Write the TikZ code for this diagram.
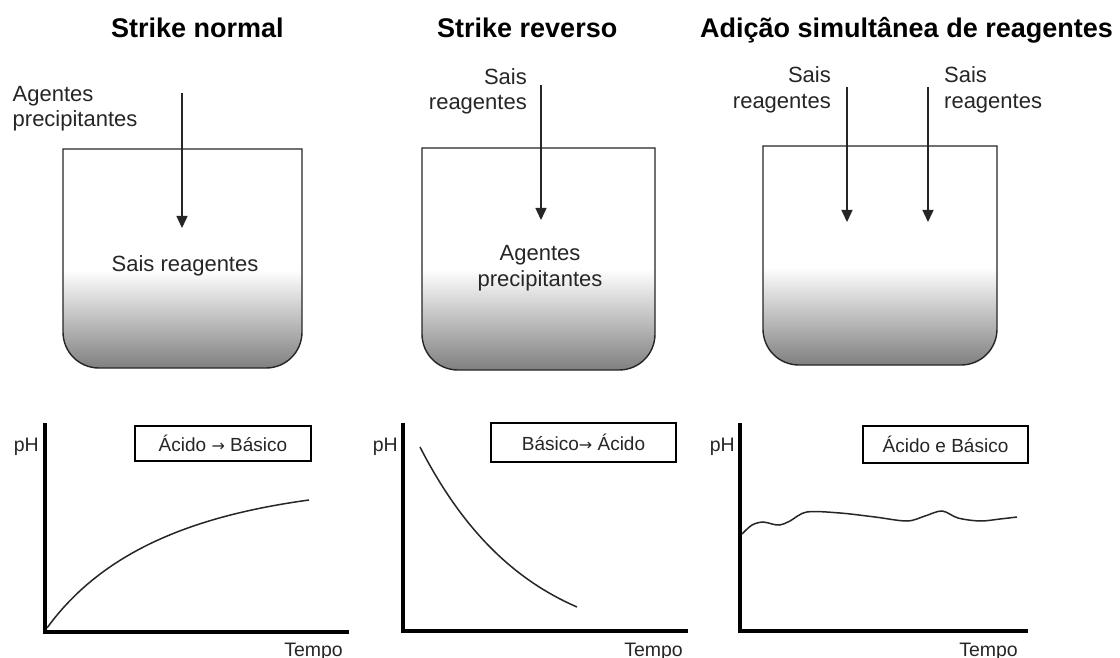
\documentclass[tikz,border=0pt]{standalone}
\usepackage{fontspec}
\setmainfont{Liberation Sans}
\newfontfamily\arrowfont{DejaVu Sans}
\usetikzlibrary{arrows.meta}
\newcommand\myvessel[4]{%
  \fill[white] (#1,#2) -- (#1,{#4-36}) .. controls (#1,{#4-16}) and ({#1+16},#4) .. ({#1+36},#4) -- ({#3-36},#4) .. controls ({#3-16},#4) and (#3,{#4-16}) .. (#3,{#4-36}) -- (#3,#2) -- cycle;
  \begin{scope}
    \clip (#1,#2) -- (#1,{#4-36}) .. controls (#1,{#4-16}) and ({#1+16},#4) .. ({#1+36},#4) -- ({#3-36},#4) .. controls ({#3-16},#4) and (#3,{#4-16}) .. (#3,{#4-36}) -- (#3,#2) -- cycle;
    \shade[top color=white,bottom color=black!50] (#1,{#2+121}) rectangle (#3,#4);
  \end{scope}
  \draw[vline] (#1,#2) -- (#1,{#4-36}) .. controls (#1,{#4-16}) and ({#1+16},#4) .. ({#1+36},#4) -- ({#3-36},#4) .. controls ({#3-16},#4) and (#3,{#4-16}) .. (#3,{#4-36}) -- (#3,#2) -- cycle;
}
\newcommand\rarr{{\arrowfont\fontsize{16}{19}\selectfont →}}
\tikzset{
  vline/.style={line width=1.4pt, draw=black!85},
  lbl/.style={font=\fontsize{22}{26}\selectfont, inner sep=0pt, text=black!85},
  ttl/.style={font=\bfseries\fontsize{27}{32}\selectfont, inner sep=0pt},
  axlbl/.style={font=\fontsize{19.5}{23}\selectfont, inner sep=0pt, text=black!85},
  boxlbl/.style={draw, line width=1.4pt, font=\fontsize{19}{22}\selectfont, inner sep=0pt, text=black!85},
  flow/.style={line width=1.4pt, draw=black!85, -{Triangle[length=12pt,width=11pt]}},
  axisline/.style={line width=3.5pt, line join=miter},
  curveline/.style={line width=1.5pt, draw=black!85}
}
\begin{document}
\begin{tikzpicture}[x=1pt,y=-1pt]
\useasboundingbox[fill=white] (0,0) rectangle (1120,658);

% titles
\node[ttl, anchor=base west] (t1) at (111,38) {Strike normal};
\node[ttl, anchor=base west] (t2) at (437,38) {Strike reverso};
\node[ttl, anchor=base west] (t3) at (700,38) {Adição simultânea de reagentes};

% vessels
\myvessel{63}{149}{302}{368}
\myvessel{422}{148}{655}{370}
\myvessel{763}{146}{997}{365}

% vessel 1
\node[lbl, anchor=base west] (v1a) at (12.5,102) {Agentes};
\node[lbl, anchor=base west] (v1b) at (12.5,127) {precipitantes};
\node[lbl, anchor=base] (v1in) at (185,271) {Sais reagentes};
\coordinate (a1s) at (182,93);
\coordinate (a1e) at (182,228);
\draw[flow] (a1s) -- (a1e);

% vessel 2
\node[lbl, anchor=base east] (v2a) at (527,85) {Sais};
\node[lbl, anchor=base east] (v2b) at (527,110) {reagentes};
\node[lbl, anchor=base] (v2in1) at (540,260) {Agentes};
\node[lbl, anchor=base] (v2in2) at (540,286) {precipitantes};
\coordinate (a2s) at (541,85);
\coordinate (a2e) at (541,220);
\draw[flow] (a2s) -- (a2e);

% vessel 3
\node[lbl, anchor=base east] (v3a) at (831,83) {Sais};
\node[lbl, anchor=base east] (v3b) at (831,109) {reagentes};
\node[lbl, anchor=base west] (v3c) at (944,83) {Sais};
\node[lbl, anchor=base west] (v3d) at (944,109) {reagentes};
\coordinate (a3s) at (847,87);
\coordinate (a3e) at (847,222);
\coordinate (a4s) at (928,87);
\coordinate (a4e) at (928,222);
\draw[flow] (a3s) -- (a3e);
\draw[flow] (a4s) -- (a4e);

% chart 1
\coordinate (y1) at (45,423);
\coordinate (o1) at (45,632);
\coordinate (x1) at (349,632);
\draw[axisline] (y1) -- (o1) -- (x1);
\node[axlbl, anchor=base east] (ph1) at (39,451) {pH};
\node[axlbl, anchor=base east] (tp1) at (343,656) {Tempo};
\node[boxlbl, minimum width=176pt, minimum height=35pt] (b1) at (223,443.5) {Ácido \rarr{} Básico};
\coordinate (c1s) at (47,628);
\coordinate (c1e) at (309,500);
\draw[curveline] (c1s) .. controls (105,548) and (200,515) .. (c1e);

% chart 2
\coordinate (y2) at (403,423);
\coordinate (o2) at (403,631);
\coordinate (x2) at (688,631);
\draw[axisline] (y2) -- (o2) -- (x2);
\node[axlbl, anchor=base east] (ph2) at (398,451) {pH};
\node[axlbl, anchor=base east] (tp2) at (683,656) {Tempo};
\node[boxlbl, minimum width=185pt, minimum height=39pt] (b2) at (583.5,442.5) {Básico\rarr{} Ácido};
\coordinate (c2s) at (420,447);
\coordinate (c2e) at (577,607);
\draw[curveline] (c2s) .. controls (460,525) and (510,578) .. (c2e);

% chart 3
\coordinate (y3) at (740,423);
\coordinate (o3) at (740,631);
\coordinate (x3) at (1028,631);
\draw[axisline] (y3) -- (o3) -- (x3);
\node[axlbl, anchor=base east] (ph3) at (735,451) {pH};
\node[axlbl, anchor=base east] (tp3) at (1018,656) {Tempo};
\node[boxlbl, minimum width=165pt, minimum height=37pt] (b3) at (945.5,444.5) {Ácido e Básico};
\draw[curveline] plot[smooth, tension=0.55] coordinates {(742,534) (752,525) (763,522) (772,524) (780,525) (790,521) (807,512) (840,513) (875,517) (907,521) (925,516) (942,511) (958,518) (980,521) (1000,519) (1017,517)};

\end{tikzpicture}
\end{document}
